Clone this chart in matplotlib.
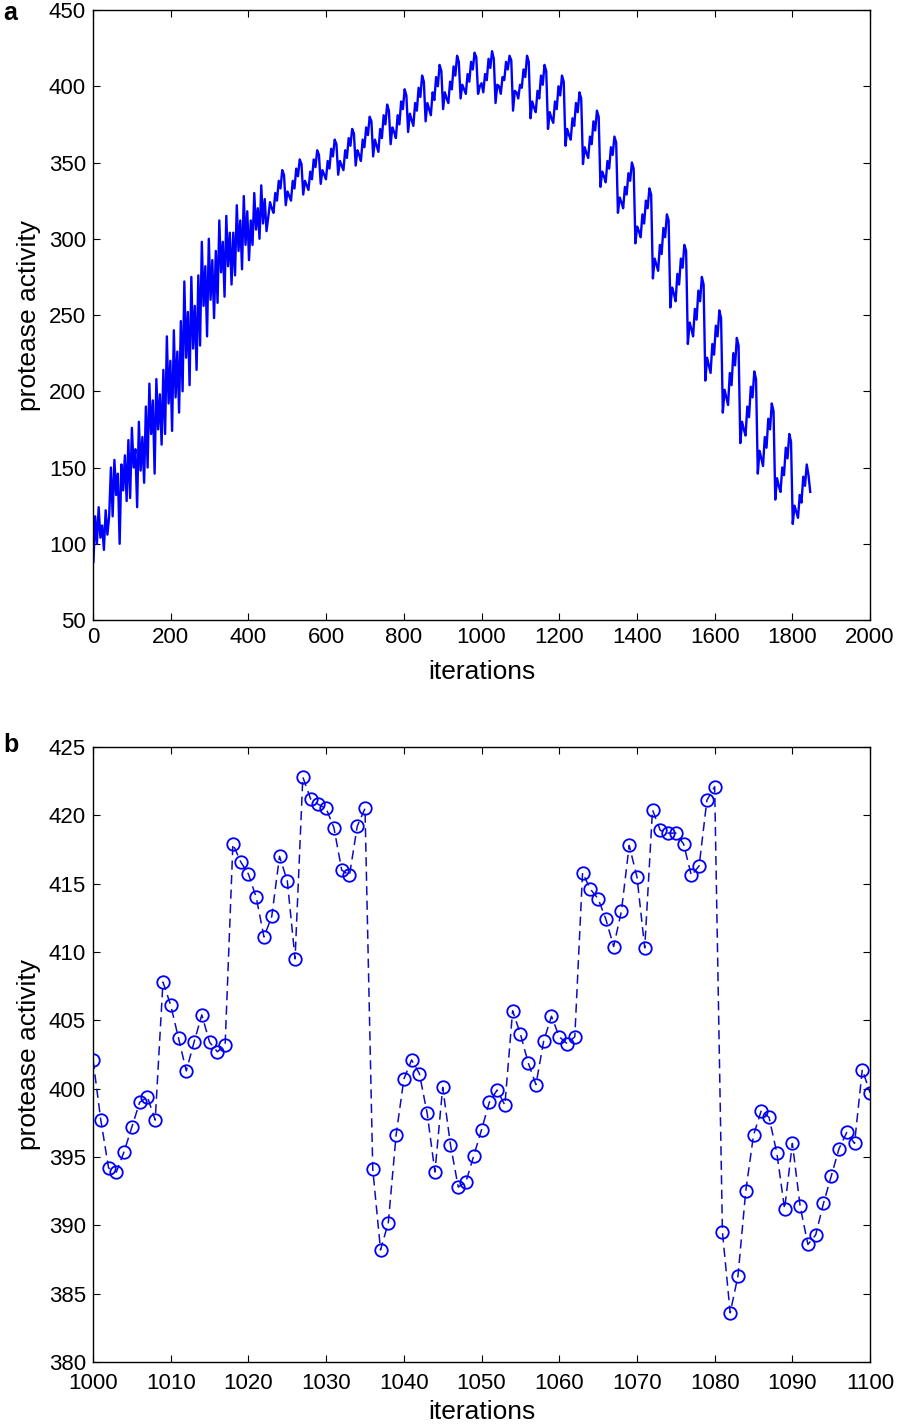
import numpy as np
import matplotlib
matplotlib.use("Agg")
import matplotlib.pyplot as plt

plt.rcParams['font.family'] = ['Liberation Sans', 'DejaVu Sans']

# panel a: the run falls into 45-iteration cycles; each row holds the values
# every 4.5 iterations inside one cycle
first_iter = 1
cycle_len = 45
step = 4.5
cycle_values = [
    [88, 118, 100, 124, 104, 112, 96, 122, 106, 118],
    [150, 118, 155, 132, 146, 100, 152, 135, 158, 128],
    [168, 130, 176, 150, 162, 124, 180, 148, 170, 140],
    [190, 150, 205, 172, 194, 146, 208, 175, 198, 165],
    [214, 172, 236, 192, 220, 174, 240, 196, 226, 186],
    [246, 200, 272, 222, 252, 204, 275, 228, 256, 214],
    [276, 230, 298, 256, 282, 236, 300, 260, 286, 248],
    [292, 258, 312, 278, 298, 262, 315, 282, 304, 270],
    [304, 276, 322, 292, 312, 280, 328, 296, 318, 286],
    [312, 296, 330, 306, 320, 300, 335, 310, 326, 305],
    [314, 324, 320, 317, 330, 325, 338, 333, 345, 342],
    [322, 331, 328, 325, 338, 333, 346, 341, 352, 349],
    [329, 338, 335, 332, 344, 339, 352, 347, 358, 355],
    [336, 345, 342, 339, 351, 346, 359, 354, 365, 362],
    [342, 351, 348, 345, 358, 353, 366, 361, 372, 369],
    [348, 358, 355, 351, 365, 360, 373, 368, 380, 377],
    [354, 365, 361, 357, 372, 366, 381, 375, 388, 384],
    [362, 373, 370, 366, 381, 375, 390, 385, 398, 394],
    [370, 382, 378, 374, 389, 384, 399, 393, 407, 403],
    [377, 389, 385, 381, 396, 391, 406, 400, 414, 410],
    [385, 396, 392, 389, 403, 398, 413, 407, 420, 416],
    [392, 401, 398, 395, 408, 403, 416, 411, 422, 419],
    [395, 400, 402, 396, 408, 404, 418, 412, 423, 418],
    [389, 401, 400, 395, 406, 404, 416, 411, 420, 417],
    [384, 397, 396, 392, 401, 399, 411, 406, 420, 416],
    [379, 390, 386, 383, 397, 392, 407, 401, 414, 410],
    [372, 383, 379, 376, 390, 385, 400, 394, 407, 403],
    [361, 372, 368, 365, 379, 374, 389, 383, 396, 392],
    [349, 360, 356, 353, 367, 362, 377, 371, 384, 380],
    [334, 344, 341, 337, 351, 346, 360, 355, 367, 363],
    [317, 327, 324, 320, 334, 329, 343, 338, 350, 346],
    [297, 308, 305, 301, 316, 310, 325, 320, 333, 329],
    [274, 287, 283, 279, 296, 290, 307, 301, 316, 312],
    [255, 268, 264, 259, 277, 270, 287, 281, 296, 292],
    [231, 245, 241, 236, 254, 247, 266, 259, 275, 270],
    [207, 222, 217, 212, 231, 224, 243, 236, 253, 248],
    [186, 201, 196, 191, 212, 204, 225, 217, 235, 230],
    [166, 180, 175, 171, 190, 183, 203, 196, 213, 208],
    [146, 161, 156, 151, 170, 163, 182, 175, 192, 187],
    [129, 143, 138, 134, 150, 145, 163, 156, 172, 167],
    [113, 125, 121, 117, 132, 127, 144, 138, 152, 145, 134],
]

# panel b: iterations 1000..1100, one value per iteration
b_first = 1000
b_values = [
    402.1, 397.7, 394.2, 393.9, 395.4, 397.2, 399.0, 399.4, 397.7, 407.8,
    406.1, 403.7, 401.3, 403.4, 405.4, 403.4, 402.7, 403.2, 417.9, 416.6,
    415.7, 414.0, 411.1, 412.6, 417.0, 415.2, 409.5, 422.8, 421.2, 420.8,
    420.5, 419.1, 416.0, 415.6, 419.2, 420.5, 394.1, 388.2, 390.2, 396.6,
    400.7, 402.1, 401.1, 398.2, 393.9, 400.1, 395.9, 392.8, 393.2, 395.1,
    397.0, 399.0, 399.9, 398.8, 405.7, 404.0, 401.9, 400.3, 403.5, 405.3,
    403.8, 403.3, 403.8, 415.8, 414.6, 413.9, 412.4, 410.4, 413.0, 417.8,
    415.5, 410.3, 420.4, 418.9, 418.7, 418.7, 417.9, 415.6, 416.3, 421.1,
    422.1, 389.5, 383.6, 386.3, 392.5, 396.6, 398.4, 397.9, 395.3, 391.2,
    396.0, 391.4, 388.6, 389.3, 391.6, 393.6, 395.6, 396.8, 396.0, 401.4,
    399.7,
]

a_x, a_y = [], []
for k, row in enumerate(cycle_values):
    for i, v in enumerate(row):
        a_x.append(first_iter + k * cycle_len + i * step)
        a_y.append(v)

b_x = np.arange(b_first, b_first + len(b_values))

blue = (0, 0, 1)
navy = (0.05, 0.05, 0.75)
fig = plt.figure(figsize=(8.98, 14.28), dpi=100)

ax1 = fig.add_axes([0.1036, 0.5658, 0.8653, 0.4272])
ax1.plot(a_x, a_y, color=blue, lw=1.7)
ax1.set_xlim(0, 2000)
ax1.set_ylim(50, 450)
ax1.set_xticks(range(0, 2001, 200))
ax1.set_yticks(range(50, 451, 50))
ax1.set_xlabel('iterations', fontsize=19, labelpad=9)
ax1.set_ylabel('protease activity', fontsize=19, labelpad=6)

ax2 = fig.add_axes([0.1036, 0.0462, 0.8653, 0.4307])
ax2.plot(b_x, b_values, color=navy, lw=1.1, ls=(0, (6, 3.5)),
         marker='o', ms=9, mfc='none', mec=blue, mew=1.3)
ax2.set_xlim(1000, 1100)
ax2.set_ylim(380, 425)
ax2.set_xticks(range(1000, 1101, 10))
ax2.set_yticks(range(380, 426, 5))
ax2.set_xlabel('iterations', fontsize=19, labelpad=4)
ax2.set_ylabel('protease activity', fontsize=19, labelpad=6)

for ax in (ax1, ax2):
    ax.tick_params(direction='in', top=True, right=True, length=5,
                   width=0.8, labelsize=16, pad=5)
    for s in ax.spines.values():
        s.set_linewidth(1.0)
ax2.tick_params(axis='x', pad=8)

fig.text(0.004, 0.999, 'a', fontsize=18, fontweight='bold', va='top')
fig.text(0.004, 0.487, 'b', fontsize=18, fontweight='bold', va='top')

fig.savefig('out.png', dpi=100)
